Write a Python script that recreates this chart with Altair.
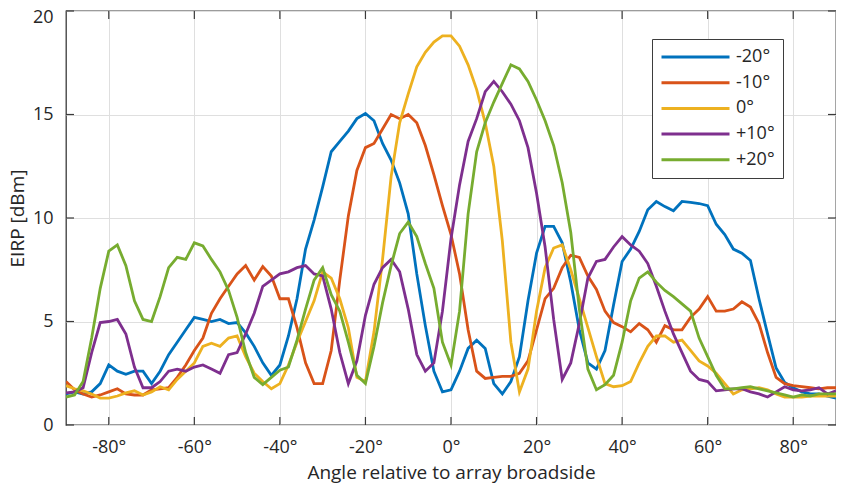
import altair as alt
import pandas as pd

# ---------------- data ----------------
angles = list(range(-90, 91, 2))
series_labels = ["-20°", "-10°", "0°", "+10°", "+20°"]
series_colors = ["#0072BD", "#D95319", "#EDB120", "#7E2F8E", "#77AC30"]

eirp_m20 = [
    1.5, 1.6, 1.5, 1.6, 2.0, 2.9, 2.6, 2.45, 2.6, 2.6,
    2.0, 2.6, 3.4, 4.0, 4.6, 5.2, 5.1, 5.0, 5.1, 4.9,
    4.95, 4.45, 3.8, 3.0, 2.4, 2.9, 4.3, 6.1, 8.5, 9.9,
    11.5, 13.2, 13.7, 14.2, 14.8, 15.05, 14.7, 13.6, 12.8, 11.7,
    10.2, 7.3, 4.8, 2.6, 1.6, 1.7, 2.6, 3.7, 4.1, 3.7,
    2.0, 1.5, 2.1, 3.3, 6.0, 8.3, 9.6, 9.6, 8.8, 6.9,
    4.6, 3.0, 2.7, 3.6, 5.8, 7.9, 8.5, 9.35, 10.4, 10.8,
    10.55, 10.35, 10.8, 10.75, 10.7, 10.6, 9.7, 9.2, 8.5, 8.3,
    7.95, 6.1, 4.4, 2.75, 2.05, 1.8, 1.6, 1.5, 1.5, 1.4, 1.3,
]
eirp_m10 = [
    2.1, 1.7, 1.5, 1.35, 1.45, 1.6, 1.75, 1.5, 1.45, 1.45,
    1.7, 1.75, 1.8, 2.3, 2.9, 3.6, 4.2, 5.4, 6.1, 6.7,
    7.3, 7.7, 7.0, 7.65, 7.2, 6.1, 6.1, 4.7, 3.0, 2.0,
    2.0, 3.6, 7.0, 10.1, 12.3, 13.4, 13.6, 14.3, 15.0, 14.8,
    15.0, 14.6, 13.5, 12.1, 10.6, 9.2, 7.3, 4.6, 2.6, 2.25,
    2.3, 2.35, 2.35, 2.5, 3.1, 4.6, 6.1, 6.6, 7.6, 8.2,
    8.1, 7.2, 6.55, 5.5, 4.95, 4.75, 4.5, 4.9, 4.6, 4.0,
    4.8, 4.6, 4.6, 5.2, 5.6, 6.2, 5.5, 5.5, 5.6, 5.95,
    5.7, 4.9, 3.5, 2.3, 2.0, 1.9, 1.85, 1.8, 1.75, 1.8, 1.8,
]
eirp_0 = [
    1.9, 1.75, 1.65, 1.5, 1.3, 1.3, 1.4, 1.55, 1.65, 1.45,
    1.6, 1.85, 1.7, 2.2, 2.6, 3.0, 3.8, 3.95, 3.8, 4.2,
    4.3, 3.3, 2.5, 2.1, 1.75, 2.0, 2.9, 4.0, 5.0, 6.0,
    7.4, 7.1, 6.1, 4.7, 2.3, 2.1, 4.5, 8.0, 12.0, 14.6,
    16.0, 17.3, 18.0, 18.5, 18.8, 18.8, 18.3, 17.4, 16.2, 14.6,
    12.5, 8.9, 4.0, 1.6, 2.7, 5.5, 7.6, 8.55, 8.7, 7.5,
    6.1, 4.7, 3.3, 2.0, 1.85, 1.9, 2.1, 3.0, 3.8, 4.3,
    4.3, 4.0, 4.1, 3.6, 3.1, 2.85, 2.5, 2.0, 1.5, 1.7,
    1.75, 1.8, 1.7, 1.5, 1.35, 1.35, 1.35, 1.4, 1.4, 1.4, 1.4,
]
eirp_p10 = [
    1.55, 1.6, 1.8, 3.5, 4.95, 5.0, 5.1, 4.4, 2.8, 1.8,
    1.8, 2.1, 2.6, 2.7, 2.6, 2.8, 2.9, 2.7, 2.5, 3.4,
    3.5, 4.4, 5.4, 6.7, 7.0, 7.3, 7.4, 7.6, 7.7, 7.3,
    7.2, 5.6, 3.5, 2.0, 3.1, 5.3, 6.8, 7.6, 8.0, 7.4,
    5.6, 3.4, 2.6, 3.0, 5.5, 9.0, 11.6, 13.7, 14.8, 16.1,
    16.6, 16.1, 15.5, 14.7, 13.4, 11.2, 8.6, 5.1, 2.2, 3.0,
    4.9, 7.1, 7.9, 8.0, 8.6, 9.1, 8.7, 8.4, 7.8, 6.7,
    5.5, 4.4, 3.5, 2.6, 2.2, 2.1, 1.65, 1.7, 1.75, 1.75,
    1.6, 1.5, 1.35, 1.6, 1.85, 1.7, 1.65, 1.7, 1.8, 1.5, 1.65,
]
eirp_p20 = [
    1.35, 1.45, 2.1, 4.2, 6.6, 8.4, 8.7, 7.7, 6.0, 5.1,
    5.0, 6.2, 7.6, 8.1, 8.0, 8.8, 8.65, 8.0, 7.4, 6.5,
    5.2, 3.5, 2.3, 1.95, 2.3, 2.65, 2.8, 4.1, 5.6, 7.0,
    7.6, 6.3, 5.5, 4.0, 2.4, 2.0, 3.8, 5.9, 7.7, 9.25,
    9.8, 9.1, 7.8, 6.6, 4.0, 2.9, 5.5, 10.2, 13.2, 14.6,
    15.6, 16.5, 17.4, 17.2, 16.6, 15.7, 14.7, 13.5, 11.7, 9.3,
    5.6, 2.7, 1.7, 1.95, 2.4, 4.0, 6.0, 7.1, 7.4, 6.9,
    6.5, 6.2, 5.85, 5.5, 4.2, 3.3, 2.4, 1.75, 1.75, 1.8,
    1.85, 1.75, 1.65, 1.55, 1.45, 1.35, 1.45, 1.4, 1.5, 1.5, 1.5,
]
series_values = [eirp_m20, eirp_m10, eirp_0, eirp_p10, eirp_p20]

x_ticks = [-80, -60, -40, -20, 0, 20, 40, 60, 80]
y_ticks = [0, 5, 10, 15, 20]

# ---------------- table ----------------
rows = []
for lab, vals in zip(series_labels, series_values):
    for a, v in zip(angles, vals):
        rows.append({"angle": a, "eirp": v, "series": lab})
df = pd.DataFrame(rows)

W, H = 770, 414
FONT = "Open Sans"
TXT = "#262626"
AX = "#3a3a3a"
TICK = 8

xscale = alt.Scale(domain=[-90, 90], nice=False, zero=False)
yscale = alt.Scale(domain=[0, 20], nice=False, zero=False)

lines = alt.Chart(df).mark_line(strokeWidth=2.8, clip=True).encode(
    x=alt.X(
        "angle:Q",
        scale=xscale,
        axis=alt.Axis(
            values=x_ticks,
            labelExpr="datum.value + '°'",
            title="Angle relative to array broadside",
            ticks=False,
            domain=False,
            grid=True,
            labelPadding=13,
            titlePadding=7,
        ),
    ),
    y=alt.Y(
        "eirp:Q",
        scale=yscale,
        axis=alt.Axis(
            values=y_ticks,
            title="EIRP [dBm]",
            ticks=False,
            domain=False,
            grid=True,
            labelPadding=13,
            labelOffset={"condition": {"test": "datum.value == 20", "value": 6}, "value": 0},
            titlePadding=5,
        ),
    ),
    color=alt.Color(
        "series:N",
        scale=alt.Scale(domain=series_labels, range=series_colors),
        legend=alt.Legend(
            title=None,
            orient="none",
            legendX=586,
            legendY=28,
            symbolType="stroke",
            symbolSize=4624,
            symbolStrokeWidth=3,
            labelFontSize=18,
            labelFont=FONT,
            labelColor=TXT,
            labelOffset=5,
            padding=8,
            rowPadding=5.7,
            clipHeight=20,
            strokeColor="#3d3d3d",
            fillColor="white",
        ),
    ),
)

xt_df = pd.DataFrame({"angle": x_ticks})
yt_df = pd.DataFrame({"eirp": y_ticks})

xt_bottom = alt.Chart(xt_df).mark_rule(color=AX, strokeWidth=1.2).encode(
    x=alt.X("angle:Q", scale=xscale), y=alt.value(H), y2=alt.value(H - TICK)
)
xt_top = alt.Chart(xt_df).mark_rule(color=AX, strokeWidth=1.2).encode(
    x=alt.X("angle:Q", scale=xscale), y=alt.value(0), y2=alt.value(TICK)
)
yt_left = alt.Chart(yt_df).mark_rule(color=AX, strokeWidth=1.2).encode(
    y=alt.Y("eirp:Q", scale=yscale), x=alt.value(0), x2=alt.value(TICK)
)
yt_right = alt.Chart(yt_df).mark_rule(color=AX, strokeWidth=1.2).encode(
    y=alt.Y("eirp:Q", scale=yscale), x=alt.value(W - TICK), x2=alt.value(W)
)

chart = (
    alt.layer(lines, xt_bottom, xt_top, yt_left, yt_right)
    .properties(
        width=W,
        height=H,
        autosize=alt.AutoSizeParams(type="none"),
        padding={"left": 58, "top": 3, "right": 0, "bottom": 58},
    )
    .configure_view(stroke=AX, strokeWidth=1.3)
    .configure_axis(
        labelFont=FONT,
        labelFontSize=18,
        labelColor=TXT,
        titleFont=FONT,
        titleFontSize=19,
        titleFontWeight="normal",
        titleColor=TXT,
        gridColor="#dfdfdf",
        gridWidth=1,
    )
    .configure_legend(labelFont=FONT)
)

chart.save("out.html", embed_options={"renderer": "svg", "actions": False})
